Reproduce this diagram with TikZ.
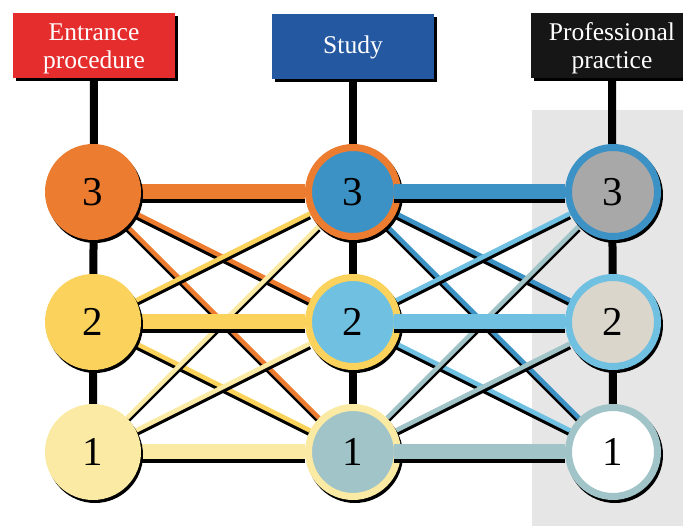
\documentclass[tikz,border=0pt]{standalone}
\usepackage{fontspec}
\setmainfont{Liberation Serif}
\usetikzlibrary{backgrounds}
\definecolor{entrancered}{RGB}{230,45,45}
\definecolor{studyblue}{RGB}{36,88,160}
\definecolor{practiceblack}{RGB}{22,22,22}
\definecolor{lvlorange}{RGB}{236,124,48}
\definecolor{lvlyellow}{RGB}{250,210,92}
\definecolor{lvlpale}{RGB}{250,234,164}
\definecolor{lvlblue}{RGB}{60,146,196}
\definecolor{lvlsky}{RGB}{112,192,226}
\definecolor{lvlteal}{RGB}{160,196,200}
\definecolor{lvlgrey}{RGB}{168,168,168}
\definecolor{lvlsand}{RGB}{218,214,204}
\definecolor{panelgrey}{RGB}{230,230,230}

% coloured link with a black shadow underneath
\newcommand{\link}[5][]{%
  \draw[#1, line width=#5, black, transform canvas={yshift=-3.5pt}] (#2) -- (#3);
  \draw[#1, line width=#5, #4] (#2) -- (#3);
}

\tikzset{
  header/.style={minimum width=162pt, minimum height=65pt, inner sep=0pt,
    text=white, align=center, font=\fontsize{25.5}{28}\selectfont,
    preaction={fill=black, transform canvas={shift={(2.5pt,-3pt)}}}},
  level/.style={circle, minimum size=89pt, inner sep=0pt, line width=7pt,
    font=\fontsize{41}{41}\selectfont,
    preaction={fill=black, draw=black, transform canvas={shift={(2pt,-3pt)}}}},
  stem/.style={line width=8pt, black},
}

\begin{document}
\begin{tikzpicture}[x=1pt, y=-1pt]
    \useasboundingbox (0,0) rectangle (683,526);

    \node[header, fill=entrancered, text depth=0pt] (entrance) at (94,46) {Entrance\\procedure};
    \node[header, fill=studyblue] (study) at (353,47) {Study};
    \node[header, fill=practiceblack, text depth=0pt] (practice) at (612,46) {Professional\\practice};

    \node[level, fill=lvlorange, draw=lvlorange] (a3) at (93,192) {3};
    \node[level, fill=lvlyellow, draw=lvlyellow] (a2) at (93,322) {2};
    \node[level, fill=lvlpale, draw=lvlpale] (a1) at (93,452) {1};

    \node[level, fill=lvlblue, draw=lvlorange] (b3) at (353,192) {3};
    \node[level, fill=lvlsky, draw=lvlyellow] (b2) at (353,322) {2};
    \node[level, fill=lvlteal, draw=lvlpale] (b1) at (353,452) {1};

    \node[level, fill=lvlgrey, draw=lvlblue] (c3) at (613,192) {3};
    \node[level, fill=lvlsand, draw=lvlsky] (c2) at (613,322) {2};
    \node[level, fill=white, draw=lvlteal] (c1) at (613,452) {1};

    \begin{scope}[on background layer]
        \fill[panelgrey] (532,110) rectangle (683,526);
        \draw[stem] (entrance) -- (a1.center);
        \draw[stem] (study) -- (b1.center);
        \draw[stem] (practice) -- (c1.center);

        % entrance -> study
        \link{a3}{b2}{lvlorange}{4.5pt}
        \link{a3}{b1}{lvlorange}{4.5pt}
        \link{a2}{b3}{lvlyellow}{4.5pt}
        \link{a2}{b1}{lvlyellow}{4.5pt}
        \link{a1}{b3}{lvlpale}{4.5pt}
        \link{a1}{b2}{lvlpale}{4.5pt}
        \link{a3}{b3}{lvlorange}{15pt}
        \link{a2}{b2}{lvlyellow}{15pt}
        \link{a1}{b1}{lvlpale}{15pt}

        % study -> practice
        \link{b3}{c2}{lvlblue}{4.5pt}
        \link{b3}{c1}{lvlblue}{4.5pt}
        \link{b2}{c3}{lvlsky}{4.5pt}
        \link{b2}{c1}{lvlsky}{4.5pt}
        \link{b1}{c3}{lvlteal}{4.5pt}
        \link{b1}{c2}{lvlteal}{4.5pt}
    \end{scope}

    \link[shorten <=41pt]{b3.center}{c3}{lvlblue}{15pt}
    \link[shorten <=41pt]{b2.center}{c2}{lvlsky}{15pt}
    \link[shorten <=41pt]{b1.center}{c1}{lvlteal}{15pt}
\end{tikzpicture}
\end{document}
